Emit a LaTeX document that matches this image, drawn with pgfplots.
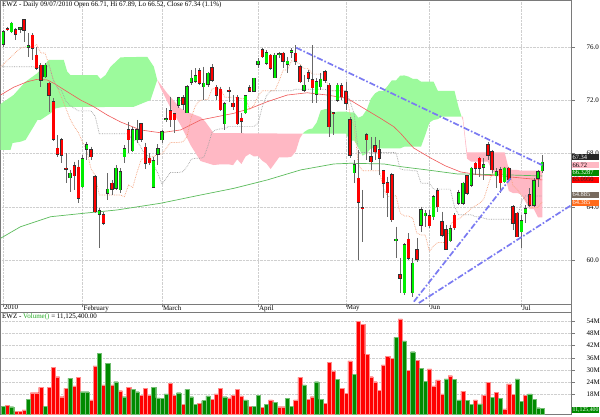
\documentclass[border=0pt]{standalone}
\usepackage{fontspec}
\setmainfont{Liberation Serif}
\usepackage{pgfplots}
\pgfplotsset{compat=1.18}
\usepackage{pgfplotstable}

\definecolor{upc}{HTML}{00EE00}
\definecolor{dnc}{HTML}{FF0000}
\definecolor{wick}{HTML}{686868}
\definecolor{kumoG}{HTML}{9CFA9C}
\definecolor{kumoR}{HTML}{FFB8C4}
\definecolor{maR}{HTML}{F05858}
\definecolor{maG}{HTML}{5CBC5C}
\definecolor{tenk}{HTML}{F5A07A}
\definecolor{kij}{HTML}{A0A0A0}
\definecolor{trend}{HTML}{7A7AF2}
\definecolor{frame}{HTML}{7A7A7A}
\definecolor{gridc}{HTML}{CFCFCF}
\definecolor{volG}{HTML}{008A00}
\definecolor{volR}{HTML}{FF0000}
\definecolor{voltx}{HTML}{22AA22}
\definecolor{kijbox}{HTML}{786A5E}
\definecolor{tenbox}{HTML}{FF6A1A}

% daily candles, index 0 = 4 Jan 2010
\pgfplotstableread{
i o h l c
1 77.39 77.52 77.20 77.31
3 77.28 77.43 76.53 76.95
5 78.03 78.10 76.40 77.28
7 76.90 77.05 75.00 75.90
8 75.40 76.02 74.28 74.43
9 74.65 74.80 73.02 73.53
11 73.28 73.40 71.15 72.40
12 71.90 72.18 68.95 69.08
13 68.40 69.40 67.77 67.95
14 69.03 69.18 67.33 67.90
15 66.90 68.07 65.77 66.85
17 67.08 67.40 65.28 66.33
18 66.98 67.53 64.33 64.65
21 68.28 68.53 67.53 67.78
22 66.28 66.40 63.55 63.65
24 63.40 63.65 62.65 62.78
26 65.78 66.03 64.90 65.33
30 69.78 70.40 68.03 69.03
33 70.23 70.28 68.90 69.08
34 68.48 68.83 66.83 67.28
35 67.65 68.03 67.15 67.33
40 71.20 72.28 70.03 70.53
41 70.98 71.03 69.58 70.53
43 72.20 72.40 71.28 71.70
47 74.23 74.40 73.15 73.28
50 74.45 74.70 73.40 73.53
51 72.98 73.15 72.03 72.40
52 72.83 73.03 71.20 71.28
54 72.75 73.03 71.90 72.70
55 71.78 72.40 71.28 71.53
56 72.23 72.40 70.15 70.23
57 70.65 71.03 69.53 70.45
59 72.95 73.15 72.65 72.70
62 75.78 75.90 75.15 75.28
64 75.40 75.45 74.28 74.40
67 75.53 75.65 74.40 74.95
70 75.53 76.15 74.65 74.95
71 74.53 74.65 73.28 73.40
73 74.08 74.28 73.40 73.65
74 73.53 76.15 71.78 72.95
77 74.15 74.28 73.28 73.53
78 73.15 73.28 69.28 70.03
79 71.05 71.15 69.40 71.00
81 73.08 73.28 72.03 72.28
82 72.65 73.40 71.28 71.78
83 70.53 70.75 67.68 67.90
85 66.15 68.28 60.03 64.35
86 63.95 65.28 61.40 63.90
87 69.40 69.55 67.53 69.03
88 67.78 69.25 66.78 67.40
89 68.58 69.25 67.53 68.13
90 68.28 69.03 66.40 67.65
91 66.73 66.78 64.68 65.80
92 65.80 66.28 63.28 65.08
93 66.40 66.53 62.90 63.03
95 58.90 60.18 57.55 58.65
97 61.58 62.03 60.03 60.15
99 60.78 61.68 59.90 60.08
102 63.33 63.78 62.40 62.58
104 65.23 65.40 63.65 64.03
105 62.90 63.65 61.78 61.90
106 62.28 62.65 60.78 60.83
108 63.38 63.53 62.28 62.45
111 66.33 66.40 64.90 65.03
113 67.28 67.40 66.40 66.90
114 67.65 67.78 66.28 66.90
116 68.65 68.88 67.53 67.90
117 68.15 68.28 66.53 66.78
119 66.78 67.03 65.03 65.83
121 66.90 67.03 65.90 66.03
122 64.03 64.15 62.28 62.78
123 63.53 63.65 61.78 61.78
126 64.90 65.40 64.03 64.15
}\dncandles

\pgfplotstableread{
i o h l c
0 76.23 77.28 76.00 77.13
2 77.15 77.90 77.03 77.78
4 77.35 77.52 77.05 77.43
6 76.00 77.05 75.25 76.08
10 73.77 74.80 73.65 74.65
16 66.20 66.78 65.15 66.53
19 65.53 67.90 65.40 67.60
20 68.33 68.90 67.53 68.65
23 63.45 63.93 60.90 63.72
25 65.03 66.53 64.53 65.33
27 65.40 67.15 65.28 66.90
28 65.28 66.90 65.03 66.65
29 67.78 68.65 67.28 68.35
31 68.23 70.03 68.15 69.78
32 69.03 70.53 68.78 69.78
36 65.48 67.78 65.40 67.48
37 67.95 68.70 67.15 68.35
38 69.03 69.78 68.78 69.65
39 70.60 71.40 70.40 70.63
42 71.65 72.28 71.40 72.20
44 71.08 73.15 71.03 73.03
45 73.35 74.28 73.15 73.65
46 73.45 74.40 73.28 73.83
48 73.03 74.53 72.03 73.28
49 73.20 74.15 73.03 74.03
53 70.23 71.90 69.78 71.73
58 71.08 72.40 70.98 72.33
60 72.70 73.70 72.65 73.65
61 74.70 75.15 74.40 74.95
63 74.78 75.78 74.65 75.58
65 73.70 75.53 73.65 75.40
66 75.45 75.65 75.15 75.50
68 74.70 75.28 74.03 74.95
69 75.60 75.90 75.15 75.73
72 72.78 73.90 72.65 73.15
75 72.45 73.65 71.78 73.40
76 73.03 74.03 72.78 73.60
80 72.03 73.28 71.90 73.15
84 66.58 67.53 65.78 67.15
94 61.48 62.53 60.15 61.58
96 57.58 61.28 57.40 61.15
98 57.58 60.18 57.28 59.78
100 62.65 64.03 62.15 63.78
101 63.33 63.78 62.53 63.53
103 63.28 64.90 63.03 64.78
107 61.48 62.65 61.40 62.38
109 64.28 65.28 64.15 65.08
110 64.28 65.90 64.15 65.78
112 65.65 67.03 65.53 66.90
115 66.98 67.65 66.03 67.15
118 66.33 66.90 65.40 66.65
120 65.90 67.03 65.78 66.90
124 62.15 63.40 60.90 62.98
125 63.53 64.15 62.78 63.85
127 64.15 66.15 64.03 65.98
128 66.15 66.78 65.53 66.65
129 66.71 67.89 66.52 67.34
}\upcandles

% volume in millions
\pgfplotstableread{
i v
1 12.7
3 9.7
4 9.7
5 10.3
7 18.8
8 18.8
9 21.4
11 21.4
12 31.3
13 26.7
14 16.8
15 20.9
17 22.1
18 26.4
21 15.2
22 32.0
24 22.6
26 22.6
28 19.8
30 21.4
33 17.6
34 20.9
35 17.6
40 23.5
41 17.6
43 13.1
47 13.6
50 15.5
51 18.2
52 20.9
54 16.3
55 17.6
56 20.4
57 17.2
59 12.2
62 11.6
64 15.2
66 11.9
67 11.9
70 15.2
71 26.4
73 15.5
74 16.8
77 13.6
78 33.8
79 29.5
81 20.9
82 18.5
83 34.5
85 53.9
86 52.6
87 37.8
88 26.7
89 24.2
90 20.1
91 32.5
92 36.6
93 35.8
95 55.2
97 29.7
99 34.9
102 30.5
103 22.1
104 25.1
105 18.2
107 27.2
110 19.6
113 15.2
115 17.6
116 23.9
118 19.0
120 10.8
121 23.2
122 18.0
125 17.6
}\volred

\pgfplotstableread{
i v
0 12.2
2 11.9
6 15.5
10 12.2
16 25.8
19 19.3
20 19.3
23 38.2
25 33.3
27 24.2
29 16.8
31 20.4
32 19.3
36 21.4
37 16.3
38 16.0
39 18.2
42 18.8
44 20.4
45 16.8
46 13.1
48 14.9
49 17.2
53 16.8
58 15.2
60 12.2
61 17.4
63 13.1
65 14.1
68 16.0
69 12.2
72 22.6
75 24.2
76 15.5
80 25.4
84 27.9
94 46.1
96 44.3
98 39.0
100 30.8
101 24.5
106 25.6
108 25.4
109 15.2
111 14.9
112 13.1
114 13.3
117 16.5
119 16.0
123 25.6
124 14.6
126 18.2
127 15.5
128 11.4
129 11.1
}\volgreen

\tikzset{chartfont/.style={font=\fontsize{7}{7}\selectfont}}
\pgfplotsset{
  bars of/.style 2 args={forget plot, draw=none, mark=none,
    error bars/.cd, y dir=minus, y explicit, error mark=none,
    error bar style={draw=#1, solid, line width=#2}},
}

\newcommand\valbox[5][6.5]{\node[anchor=west, fill=#3, text=#4, inner xsep=0.8pt,
  inner ysep=0pt, minimum height=6pt, text width=25.5pt, align=left,
  font=\fontsize{#1}{#1}\selectfont] at (571.6pt,#2) {#5};}

\begin{document}
\begin{tikzpicture}
\useasboundingbox (0,0) rectangle (600pt,416pt);
\fill[white] (0,0) rectangle (600pt,416pt);

% ---------------- price panel ----------------
\begin{axis}[
  at={(0.5pt,111.7pt)}, anchor=south west,
  scale only axis, width=571pt, height=304.3pt,
  xmin=-0.65, xmax=136.0, ymin=56.70, ymax=79.53,
  axis line style={frame, line width=0.6pt},
  /pgf/number format/assume math mode=true,
  tick style={frame, line width=0.5pt},
  major tick length=3pt, tick align=outside,
  xtick pos=lower, ytick pos=right,
  xtick={0,19,38,61,82,102,124},
  xticklabels={2010,February,March,April,May,Jun,Jul},
  xticklabel style={chartfont, anchor=north west, inner sep=0pt, xshift=0.8pt, yshift=2.2pt},
  ytick={60,64,68,72,76},
  yticklabel={\pgfmathprintnumber[fixed,fixed zerofill,precision=1]{\tick}},
  yticklabel style={chartfont, anchor=west, inner sep=0pt, xshift=12pt},
  grid=major, grid style={gridc, densely dotted, line width=0.5pt},
]
% kumo, green part 1
\addplot[fill=kumoG, draw=none, forget plot] coordinates {
(-0.65,71.73) (0.14,71.9) (2.47,72.4) (5.34,73.4) (8.14,74.03) (10.91,75.03)
(14.5,75.03) (15.32,74.15) (16.11,73.9) (22.5,73.9) (23.29,73.6) (24.49,73.9)
(25.68,74.52) (28.08,75.23) (34.47,75.27) (36.05,74.52) (36.86,73.53)
(35.26,72.03) (31.26,71.52) (23.29,71.5) (14.5,71.52) (12.52,71.4) (11.32,71.03)
(8.93,70.53) (8.21,70.53) (7.25,70.02) (5.34,69.03) (4.14,68.9) (2.23,68.8)
(1.75,68.28) (-0.65,68.28)} -- cycle;
% kumo, pink part 1
\addplot[fill=kumoR, draw=none, forget plot] coordinates {
(36.86,73.53) (39.25,72.53) (42.44,71.4) (44.83,71.03) (47.22,70.75) (48.42,70.38)
(50.33,69.55) (71.7,69.5)
(71,69.16) (70,68.16) (69,67.78) (68,67.72) (66,67.72) (65,67.28) (64,66.85)
(63,67.26) (62,67.47) (61,67.82) (60,67.79) (59,67.99) (58,67.79) (57,67.23)
(56,67.58) (55,67.14) (54,67.2) (52,67.2) (50.33,67.15) (47.22,67.45)
(44.83,68.65) (42.44,70.15) (40.04,71.43) (37.65,72.93)} -- cycle;
% kumo, green part 2
\addplot[fill=kumoG, draw=none, forget plot] coordinates {
(71.7,69.5) (72,69.62) (73,69.82) (74,69.89) (75,70.33) (76,71.25) (77,71.34)
(78,71.37) (79,71.06) (80,71.15) (82,71.15) (83,71.09) (84,71.09) (85,70.7)
(86,70.84) (87,71.31) (88,72.13) (89,72.53) (90,72.72) (91,72.72) (92,73.08)
(93,73.5) (94,73.5) (95,73.85) (96,73.87) (97,73.78) (98,73.62) (99,73.62)
(100,73.4) (103,73.4) (104,72.72) (108,72.72) (109,71.45) (109.7,70.78)
(105,70.78) (104,70.59) (103,70.53) (102,70.34) (101,69.4) (100,68.53)
(96,68.53) (95,68.4) (88,68.4) (87,68.03) (86,67.85) (85,68.46) (84,68.98)
(83,68.98) (82,69.5) (77,69.5)} -- cycle;
% kumo, pink part 2
\addplot[fill=kumoR, draw=none, forget plot] coordinates {
(109.7,70.78) (110,70.78) (111,68.09) (120,68.09) (121,66.85) (122,66.78)
(123,66.78) (124,66.72) (129,66.72)
(129,63.22) (128,63.22) (127,63.84) (126,63.84) (125,64.37) (124,64.94)
(123,65.05) (122,65.05) (121,65.2) (120,66.47) (119,66.44) (118,66.44)
(117,66.74) (116,67.4) (112,67.4) (111,67.63) (110,70.5)} -- cycle;

% long moving average (green)
\addplot[maG, line width=0.7pt, forget plot] coordinates {
(-0.65,61.65) (4.14,62.52) (11.32,63.27) (19.29,63.53) (27.29,63.78)
(37.65,64.28) (47.22,64.9) (55.19,65.4) (63.19,66.03) (71.16,66.78)
(79.13,67.23) (83.12,67.28) (91.1,67.23) (95.09,67.03) (101.48,66.78)
(108.66,66.48) (114.24,66.45) (121.42,66.4) (129,66.33)};
% shorter moving average (red)
\addplot[maR, line width=0.6pt, forget plot] coordinates {
(-0.65,72.4) (2.47,72.98) (5.74,73.4) (8.14,73.58) (10.53,73.53) (12.11,73.28)
(15.32,72.65) (18.5,72.03) (21.69,71.52) (24.89,70.9) (28.08,70.38)
(32.86,69.78) (37.65,69.57) (42.44,69.78) (47.22,70.53) (55.19,71.03)
(59.19,71.4) (63.19,71.9) (67.97,72.4) (72.76,72.57) (77.55,72.4)
(82.34,72.15) (86.31,71.4) (90.31,70.65) (93.49,70.02) (95.09,69.53)
(98.2,68.43) (102.27,67.68) (105.86,67.08) (109.46,66.63) (114.24,66.4)
(119.03,66.33) (123.81,66.18) (129,66.03)};
% tenkan (dotted orange)
\addplot[tenk, densely dotted, line width=0.7pt, forget plot] coordinates {
(-0.65,74.5) (2,75.3) (4,75.9) (5,76.0) (7,76.02) (8,76.19) (9,75.56) (10,75.56)
(11,74.63) (12,73.53) (13,72.94) (14,72.19) (15,71.41) (16,70.59) (17,70.04)
(18,69.57) (19,68.87) (20,68.25) (21,66.87) (22,66.37) (23,64.9) (28,64.9)
(29,64.78) (30,65.65) (31,65.47) (32,66.59) (33,67.53) (34,67.72) (36,67.78)
(37,67.97) (38,67.97) (39,68.4) (40,68.84) (42,68.84) (43,68.9) (44,69.28)
(45,70.72) (46,71.59) (47,71.99) (48,72.06) (49,72.06) (50,72.87) (52,72.87)
(53,72.24) (56,72.24) (57,72.12) (58,72.12) (59,71.34) (60,71.62) (61,72.34)
(62,72.72) (65,72.72) (66,73.44) (67,74.28) (68,74.28) (69,74.97) (70,74.9)
(71,74.72) (72,74.4) (73,74.4) (74,73.97) (77,73.97) (78,72.72) (82,72.72)
(83,70.98) (84,70.03) (85,67.16) (86,66.72) (90,66.72) (91,65.39) (92,64.79)
(93,64.79) (94,64.85) (95,63.55) (96,63.33) (97,63.33) (98,63.16) (99,62.03)
(100,61.9) (101,61.9) (102,60.66) (103,61.09) (104,61.34) (106,61.34)
(107,62.65) (108,63.09) (109,63.09) (110,63.34) (111,63.59) (112,63.9)
(113,64.09) (114,64.28) (115,64.59) (116,65.58) (117,66.52) (118,66.52)
(119,66.89) (120,66.96) (121,66.96) (122,65.58) (123,65.33) (124,64.89)
(125,64.59) (126,63.97) (128,63.97) (129,64.4)};
% kijun (dotted grey)
\addplot[kij, densely dotted, line width=0.7pt, forget plot] coordinates {
(-0.65,74.52) (7,74.52) (10,74.4) (11,74.62) (12,73.52) (13,72.93) (14,72.71)
(15,71.93) (16,71.62) (18,71.21) (21,71.21) (22,70.82) (23,69.5) (30,69.5)
(31,68.98) (32,68.98) (33,68.46) (34,67.85) (35,67.85) (36,67.15) (37,66.54)
(38,65.72) (39,66.15) (40,66.59) (42,66.59) (43,66.65) (44,67.03) (45,67.59)
(46,67.65) (47,67.65) (48,67.72) (49,68.59) (50,69.62) (51,69.8) (52,69.87)
(53,69.87) (54,70.05) (60,70.05) (61,70.28) (62,71.53) (63,72.34) (64,72.72)
(69,72.72) (70,72.84) (77,72.84) (78,72.72) (82,72.72) (83,71.92) (84,70.97)
(85,68.09) (94,68.09) (95,66.85) (96,66.78) (97,66.78) (98,66.72) (99,66.72)
(100,65.78) (102,65.78) (103,65.34) (107,65.34) (108,64.02) (109,63.42)
(112,63.42) (113,63.27) (114,63.27) (115,63.16) (116,63.08) (123,63.08)
(124,64.39) (125,64.83) (129,64.83)};

% candles: wicks, outlines, bodies
\addplot[bars of={wick}{0.7pt}] table[x=i, y=h, y error minus expr=\thisrow{h}-\thisrow{l}] {\dncandles};
\addplot[bars of={wick}{0.7pt}] table[x=i, y=h, y error minus expr=\thisrow{h}-\thisrow{l}] {\upcandles};
\addplot[bars of={black!80}{3.4pt}] table[x=i, y expr=\thisrow{o}+0.04,
  y error minus expr=\thisrow{o}-\thisrow{c}+0.08] {\dncandles};
\addplot[bars of={black!80}{3.4pt}] table[x=i, y expr=\thisrow{c}+0.04,
  y error minus expr=\thisrow{c}-\thisrow{o}+0.08] {\upcandles};
\addplot[bars of={dnc}{2.3pt}] table[x=i, y=o,
  y error minus expr=\thisrow{o}-\thisrow{c}] {\dncandles};
\addplot[bars of={upc}{2.3pt}] table[x=i, y=c,
  y error minus expr=\thisrow{c}-\thisrow{o}] {\upcandles};

% drawn trend lines
\addplot[trend, line width=1.7pt, dash pattern=on 6pt off 2pt on 1.6pt off 2pt, forget plot]
  coordinates {(70.13,75.95) (129.0,67.14)};
\addplot[trend, line width=1.7pt, dash pattern=on 6pt off 2pt on 1.6pt off 2pt, forget plot]
  coordinates {(98.28,56.9) (121.42,66.15)};
\addplot[trend, line width=1.7pt, dash pattern=on 6pt off 2pt on 1.6pt off 2pt, forget plot]
  coordinates {(99.47,56.8) (136.0,64.15)};
\end{axis}

% ---------------- volume panel ----------------
\begin{axis}[
  at={(0.5pt,2pt)}, anchor=south west,
  scale only axis, width=571pt, height=101.3pt,
  xmin=-0.65, xmax=136.0, ymin=8.29, ymax=58.24,
  axis line style={frame, line width=0.6pt},
  /pgf/number format/assume math mode=true,
  tick style={frame, line width=0.5pt},
  major tick length=3pt, tick align=outside,
  xtick=\empty, ytick pos=right,
  ytick={18,24,30,36,42,48,54},
  yticklabel={\pgfmathprintnumber[fixed,precision=0]{\tick}M},
  yticklabel style={chartfont, anchor=west, inner sep=0pt, xshift=12pt},
  ymajorgrids, grid style={gridc, densely dotted, line width=0.5pt},
]
\addplot[ybar, bar width=1, bar shift=0pt, fill=volR, draw=volR!45!white,
  line width=0.3pt, forget plot] table[x=i, y=v] {\volred};
\addplot[ybar, bar width=1, bar shift=0pt, fill=volG, draw=volG!55!white,
  line width=0.3pt, forget plot] table[x=i, y=v] {\volgreen};
\end{axis}

% date strip frame
\draw[frame, line width=0.6pt] (0.5pt,103.3pt) rectangle (571.5pt,111.7pt);

% titles
\node[anchor=north west, inner sep=0pt, chartfont] at (2pt,414.6pt)
  {EWZ - Daily 09/07/2010 Open 66.71, Hi 67.89, Lo 66.52, Close 67.34 (1.1\%)};
\node[anchor=north west, inner sep=0pt, chartfont] at (2pt,102.6pt)
  {EWZ - \textcolor{voltx}{Volume()} = 11,125,400.00};

% last-value boxes
\valbox{259pt}{black!85}{white}{67.34}
\valbox{251pt}{kumoR}{black}{66.72}
\valbox{243.2pt}{volG}{white}{66.3287}
\valbox{236.5pt}{dnc}{black!85}{65.0950}
\valbox{221.5pt}{kijbox}{white}{64.885}
\valbox{213.2pt}{tenbox}{white}{64.385}
\valbox[5.8]{6pt}{volG}{white}{11,125,400}
\end{tikzpicture}
\end{document}
